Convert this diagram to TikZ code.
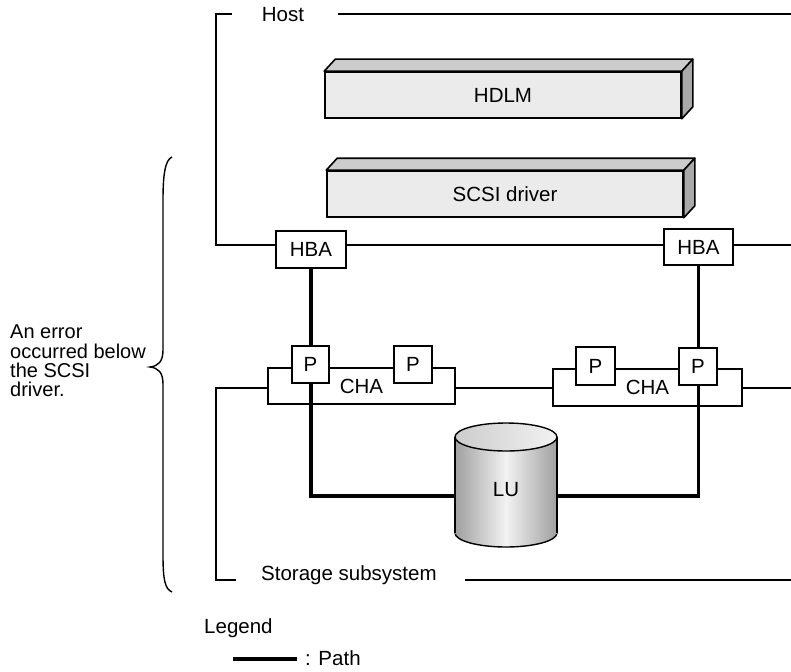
\documentclass[tikz,border=0pt]{standalone}
\usepackage{fontspec}
\setmainfont{Liberation Sans}
\definecolor{frontc}{HTML}{EBEBEB}
\definecolor{topc}{HTML}{CCCCCC}
\definecolor{sidec}{HTML}{A9A9A9}
\definecolor{cyledge}{HTML}{A0A0A0}
\definecolor{cylmid}{HTML}{F2F2F2}
\begin{document}
\begin{tikzpicture}[x=1pt,y=-1pt,
  txt/.style={font=\fontsize{20.5}{21}\selectfont},
  frame/.style={line width=1.4pt},
  boxnode/.style={draw, line width=1.6pt, fill=white, inner sep=0pt, txt},
  layer/.style={draw, line width=1.6pt, fill=frontc, minimum width=356pt, minimum height=46pt, inner sep=0pt, txt},
  face/.style={draw, line width=1.6pt, line join=round},
  pathline/.style={line width=3.6pt},
  lbl/.style={inner sep=0pt, txt}
]
\useasboundingbox (0,0) rectangle (791,671);

% ---------- Host frame ----------
\node[lbl] (host) at (283,15) {Host};
\coordinate (hStub) at (232,14);
\coordinate (hTL) at (216,14);
\coordinate (hBL) at (216,245);
\coordinate (hBR) at (791,245);
\coordinate (hLineS) at (338,14);
\coordinate (hLineE) at (791,14);
\draw[frame] (hLineS) -- (hLineE);

% layers
\node[layer] (hdlm) at (503,95) {HDLM};
\draw[face, fill=topc] (hdlm.north west) -- ++(11,-12) -- ([shift={(11,-12)}]hdlm.north east) -- (hdlm.north east) -- cycle;
\draw[face, fill=sidec] (hdlm.north east) -- ++(11,-12) -- ([shift={(11,-12)}]hdlm.south east) -- (hdlm.south east) -- cycle;

\node[layer] (scsi) at (505,194) {SCSI driver};
\draw[face, fill=topc] (scsi.north west) -- ++(11,-12) -- ([shift={(11,-12)}]scsi.north east) -- (scsi.north east) -- cycle;
\draw[face, fill=sidec] (scsi.north east) -- ++(11,-12) -- ([shift={(11,-12)}]scsi.south east) -- (scsi.south east) -- cycle;

% HBAs
\node[boxnode, minimum width=70pt, minimum height=37pt] (hba1) at (311,249.5) {HBA};
\node[boxnode, minimum width=69pt, minimum height=36pt] (hba2) at (698.5,247) {HBA};
\draw[frame] (hStub) -- (hTL) -- (hBL) -- (hba1.west |- hBL);
\draw[frame] (hba1.east |- hBL) -- (hba2.west |- hBL);
\draw[frame] (hba2.east |- hBL) -- (hBR);

% ---------- Storage frame ----------
\node[lbl, anchor=west] (stor) at (261,575) {Storage subsystem};
\coordinate (sTL) at (216,388);
\coordinate (sBL) at (216,580);
\coordinate (sStub) at (236,580);
\coordinate (sLineS) at (465,580);
\coordinate (sLineE) at (791,580);
\coordinate (sR) at (791,388);
\draw[frame] (sLineS) -- (sLineE);

\node[boxnode, minimum width=187pt, minimum height=36pt] (cha1) at (361.5,386) {CHA};
\node[boxnode, minimum width=189pt, minimum height=37pt] (cha2) at (647.5,387.5) {CHA};
\draw[frame] (cha1.west |- sTL) -- (sTL) -- (sBL) -- (sStub);
\draw[frame] (cha1.east |- sTL) -- (cha2.west |- sTL);
\draw[frame] (cha2.east |- sTL) -- (sR);

% LU (cylinder) and paths
\node[lbl, minimum width=102pt] (lu) at (506,490) {};
\coordinate (pY) at (0,496);
\draw[pathline] (hba1.south) |- (lu.west |- pY);
\draw[pathline] (hba2.south) |- (lu.east |- pY);

\node[boxnode, minimum width=37pt, minimum height=37pt] (p1) at (310.5,364.5) {P};
\node[boxnode, minimum width=38pt, minimum height=37pt] (p2) at (413,364.5) {P};
\node[boxnode, minimum width=39pt, minimum height=38pt] (p3) at (595.5,366) {P};
\node[boxnode, minimum width=38pt, minimum height=37pt] (p4) at (698,366.5) {P};

\shade[left color=cyledge, right color=cyledge, middle color=cylmid, draw, line width=1.4pt]
  (506,533) ellipse [x radius=51, y radius=14];
\shade[left color=cyledge, right color=cyledge, middle color=cylmid]
  (455,437) rectangle (557,533);
\draw[line width=1.4pt] (455,437) -- (455,533) (557,437) -- (557,533);
\shade[left color=topc, right color=cylmid, draw, line width=1.4pt]
  (506,437) ellipse [x radius=51, y radius=14];
\node[lbl] (lutext) at (506,490) {LU};

% ---------- Brace and note ----------
\draw[line width=1.4pt] (172,157) .. controls (165,160) and (163,175) .. (163,200)
  -- (163,350) .. controls (163,362) and (158,366) .. (150,367)
  .. controls (158,368) and (163,372) .. (163,384)
  -- (163,555) .. controls (163,580) and (165,589) .. (172,592);
\node[lbl, anchor=north west, align=left, font=\fontsize{20}{19.3}\selectfont] (note) at (10,325)
  {An error\\occurred below\\the SCSI\\driver.};

% ---------- Legend ----------
\node[lbl, anchor=west] (legend) at (204,628) {Legend};
\coordinate (lgA) at (233,659);
\coordinate (lgB) at (297,659);
\draw[pathline] (lgA) -- (lgB);
\node[lbl, anchor=west] (legpath) at (305,658) {: Path};
\end{tikzpicture}
\end{document}
